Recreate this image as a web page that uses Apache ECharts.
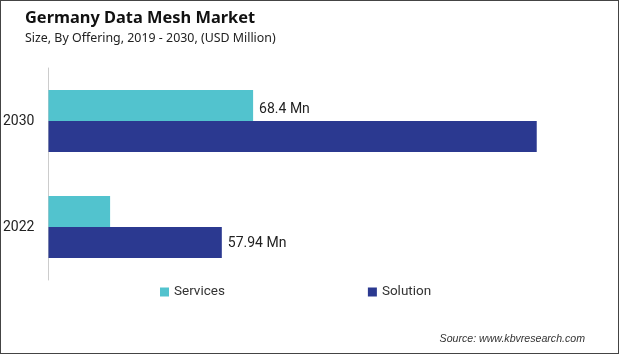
<!DOCTYPE html>
<html>
<head>
<meta charset="utf-8">
<script src="https://cdn.jsdelivr.net/npm/echarts@6/dist/echarts.min.js"></script>
<style>
html,body{margin:0;padding:0;background:#fff;}
#frame{position:absolute;left:0;top:0;width:619px;height:354px;box-sizing:border-box;border:1px solid #444;}
#chart{position:absolute;left:0;top:0;width:619px;height:354px;}
</style>
</head>
<body>
<div id="chart"></div>
<div id="frame"></div>
<script>
var categories = ['2022', '2030'];
var seriesNames = ['Services', 'Solution'];
var servicesValues = [20.6, 68.4];
var solutionValues = [57.94, 163.2];
var labelledServices = [1];   // index of category with a visible value label
var labelledSolution = [0];

var chart = echarts.init(document.getElementById('chart'));

function buildData(values, labelled, offsetY) {
  return values.map(function (v, i) {
    return {
      value: v,
      label: { show: labelled.indexOf(i) >= 0, offset: [0, offsetY] }
    };
  });
}

var labelStyle = {
  position: 'right',
  distance: 6,
  fontFamily: 'Roboto',
  fontSize: 14,
  color: '#222',
  formatter: function (p) { return p.value + ' Mn'; }
};

chart.setOption({
  animation: false,
  backgroundColor: '#fff',
  title: [
    { text: 'Germany Data Mesh Market', left: 20, top: 5,
      textStyle: { fontFamily: 'Noto Sans', fontWeight: 'bold', fontSize: 16.4, color: '#111' } },
    { text: 'Size, By Offering, 2019 - 2030, (USD Million)', left: 20, top: 27,
      textStyle: { fontFamily: 'Noto Sans', fontWeight: 'normal', fontSize: 12.4, color: '#222' } },
    { text: 'Source: www.kbvresearch.com', right: 29, top: 329,
      textStyle: { fontFamily: 'Liberation Sans', fontStyle: 'italic', fontWeight: 'normal', fontSize: 10.6, color: '#333' } }
  ],
  legend: {
    data: seriesNames,
    left: 155, top: 280,
    icon: 'rect', itemWidth: 9, itemHeight: 9, itemGap: 143,
    textStyle: { fontFamily: 'Roboto', fontSize: 13.5, color: '#333' }
  },
  grid: { left: 47, top: 68, width: 540, height: 212, containLabel: false },
  xAxis: { type: 'value', min: 0, max: 180, show: false },
  yAxis: {
    type: 'category', data: categories,
    axisLine: { show: true, lineStyle: { color: '#ccc', width: 1 } },
    axisTick: { show: false },
    axisLabel: { margin: 14, fontFamily: 'Roboto', fontSize: 14, color: '#222' }
  },
  series: [
    { name: seriesNames[0], type: 'bar', barWidth: 31, barGap: '0%',
      itemStyle: { color: '#52C3CE' }, label: labelStyle,
      data: buildData(servicesValues, labelledServices, 4) },
    { name: seriesNames[1], type: 'bar', barWidth: 31, barGap: '0%',
      itemStyle: { color: '#2B3990' }, label: labelStyle,
      data: buildData(solutionValues, labelledSolution, 1) }
  ]
});
</script>
</body>
</html>
